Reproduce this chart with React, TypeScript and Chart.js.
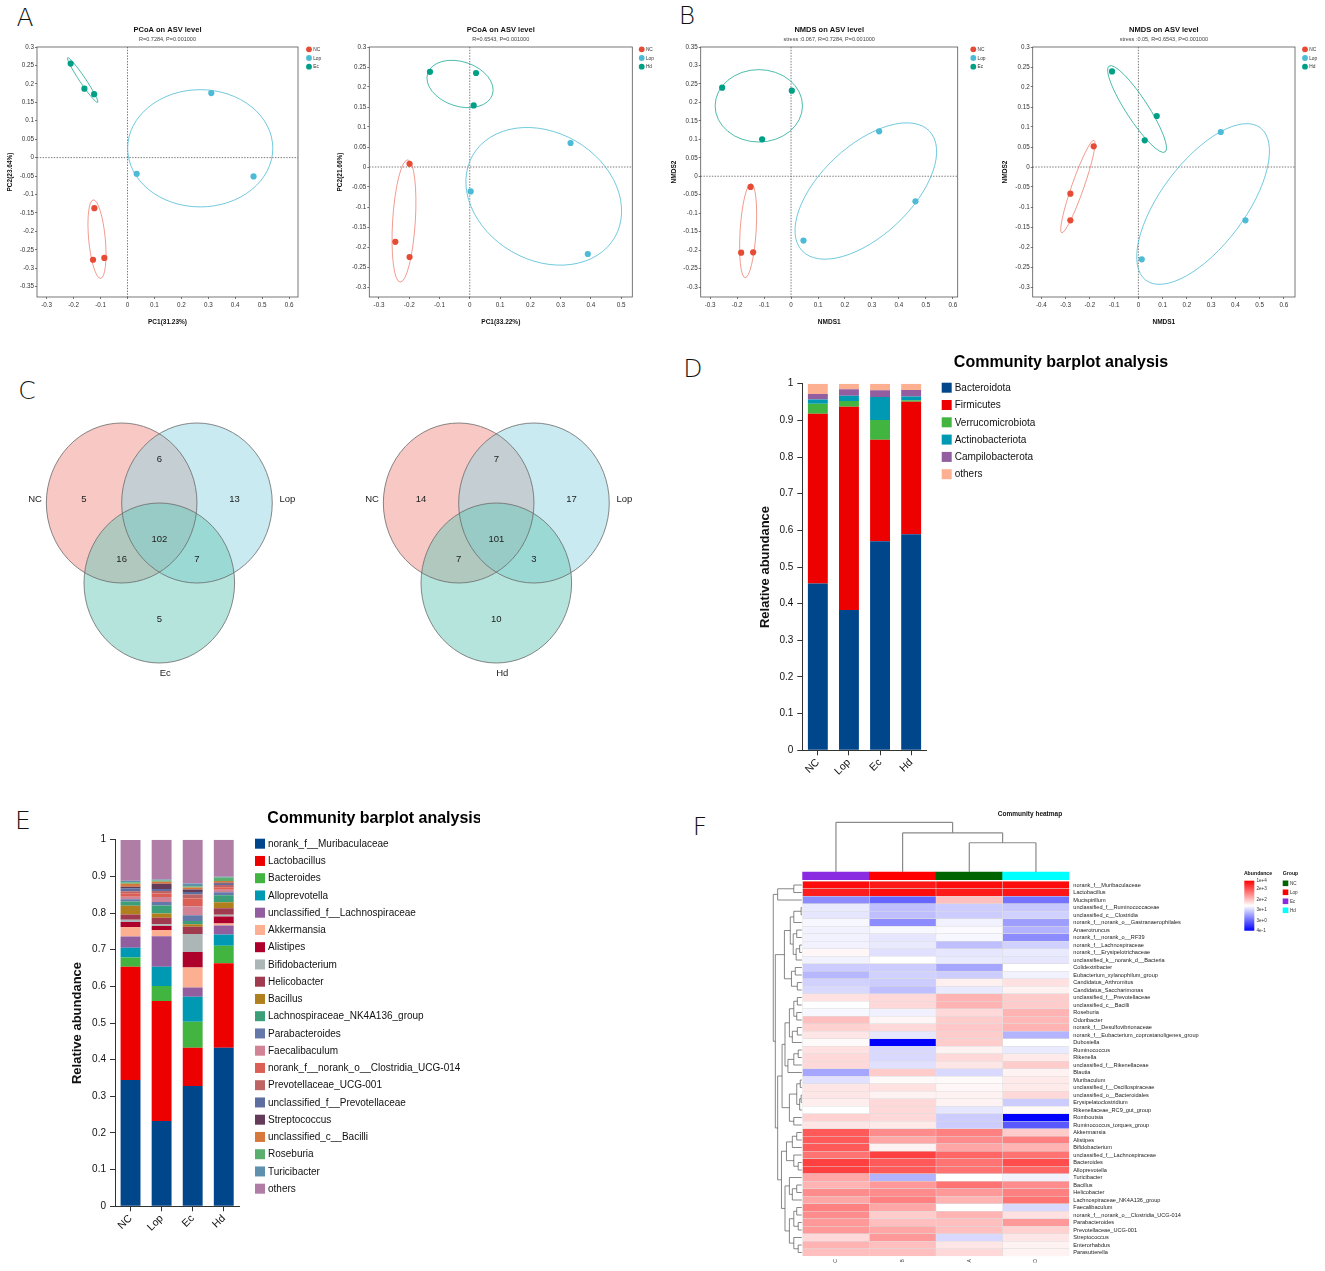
import React, { useEffect, useRef } from 'react';
import { Chart, registerables } from 'chart.js';

Chart.register(...registerables);

const FF = '"Liberation Sans", Arial, Helvetica, sans-serif';

/* ===================== A & B : ordination ===================== */
const groupsEc = ['NC', 'Lop', 'Ec'];
const groupsHd = ['NC', 'Lop', 'Hd'];
const ordColors = ['#E64B35', '#4DBBD5', '#00A087'];
const ordEllipseColors = ['rgba(230,75,53,0.55)', 'rgba(77,187,213,0.8)', 'rgba(0,160,135,0.7)'];

// PCoA (NC / Lop / Ec)
const pcoaEcNC = [[-0.123, -0.137], [-0.128, -0.277], [-0.086, -0.272]];
const pcoaEcLop = [[0.311, 0.175], [0.034, -0.044], [0.468, -0.051]];
const pcoaEcEc = [[-0.211, 0.255], [-0.16, 0.187], [-0.124, 0.172]];
// confidence ellipses: [centreX, centreY, majorEndX, majorEndY, minorEndX, minorEndY]
const pcoaEcEllipses = [
  [-0.1133, -0.2211, -0.0997, -0.3276, -0.0826, -0.2191],
  [0.27, 0.0253, 0.5395, 0.0253, 0.27, 0.1843],
  [-0.1665, 0.2103, -0.1108, 0.1498, -0.1758, 0.2058],
];
const pcoaEcXTicks = [-0.3, -0.2, -0.1, 0, 0.1, 0.2, 0.3, 0.4, 0.5, 0.6];
const pcoaEcYTicks = [-0.35, -0.3, -0.25, -0.2, -0.15, -0.1, -0.05, 0, 0.05, 0.1, 0.15, 0.2, 0.25, 0.3];

// PCoA (NC / Lop / Hd)
const pcoaHdNC = [[-0.199, 0.008], [-0.246, -0.187], [-0.199, -0.225]];
const pcoaHdLop = [[0.333, 0.06], [0.003, -0.061], [0.39, -0.2175]];
const pcoaHdHd = [[-0.1315, 0.238], [0.0207, 0.235], [0.0129, 0.154]];
const pcoaHdEllipses = [
  [-0.2174, -0.135, -0.23, -0.2879, -0.18, -0.1368],
  [0.2444, -0.0733, 0.4791, -0.1758, 0.3499, 0.0649],
  [-0.0322, 0.2075, 0.0747, 0.1808, -0.0554, 0.1546],
];
const pcoaHdXTicks = [-0.3, -0.2, -0.1, 0, 0.1, 0.2, 0.3, 0.4, 0.5];
const pcoaHdYTicks = [-0.3, -0.25, -0.2, -0.15, -0.1, -0.05, 0, 0.05, 0.1, 0.15, 0.2, 0.25, 0.3];

// NMDS (NC / Lop / Ec)
const nmdsEcNC = [[-0.15, -0.029], [-0.185, -0.207], [-0.1405, -0.206]];
const nmdsEcLop = [[0.3267, 0.1216], [0.4614, -0.068], [0.0461, -0.1742]];
const nmdsEcEc = [[-0.2555, 0.2399], [0.0028, 0.2317], [-0.1072, 0.0999]];
const nmdsEcEllipses = [
  [-0.1591, -0.1474, -0.1702, -0.2747, -0.1295, -0.1488],
  [0.2773, -0.04, 0.5138, 0.1217, 0.3915, -0.1291],
  [-0.1195, 0.1907, 0.0425, 0.1907, -0.1195, 0.2887],
];
const nmdsEcXTicks = [-0.3, -0.2, -0.1, 0, 0.1, 0.2, 0.3, 0.4, 0.5, 0.6];
const nmdsEcYTicks = [-0.3, -0.25, -0.2, -0.15, -0.1, -0.05, 0, 0.05, 0.1, 0.15, 0.2, 0.25, 0.3, 0.35];

// NMDS (NC / Lop / Hd)
const nmdsHdNC = [[-0.1843, 0.0517], [-0.2806, -0.0667], [-0.2806, -0.1333]];
const nmdsHdLop = [[0.3398, 0.0875], [0.4415, -0.1333], [0.0138, -0.2308]];
const nmdsHdHd = [[-0.1087, 0.239], [0.0757, 0.1275], [0.0261, 0.0667]];
const nmdsHdEllipses = [
  [-0.2497, -0.0488, -0.183, 0.0667, -0.2263, -0.0538],
  [0.2669, -0.0925, 0.5028, 0.0982, 0.4059, -0.1557],
  [-0.0055, 0.145, 0.11, 0.0375, -0.0435, 0.13],
];
const nmdsHdXTicks = [-0.4, -0.3, -0.2, -0.1, 0, 0.1, 0.2, 0.3, 0.4, 0.5, 0.6];
const nmdsHdYTicks = [-0.3, -0.25, -0.2, -0.15, -0.1, -0.05, 0, 0.05, 0.1, 0.15, 0.2, 0.25, 0.3];

/* ===================== C : Venn ===================== */
const vennSetsEc = ['NC', 'Lop', 'Ec'];
const vennSetsHd = ['NC', 'Lop', 'Hd'];
// region order: NC only, Lop only, third only, NC∩Lop, NC∩third, Lop∩third, all three
const vennCountsEc = [5, 13, 5, 6, 16, 7, 102];
const vennCountsHd = [14, 17, 10, 7, 7, 3, 101];
const vennCenters = [[0, 0], [1, 0], [0.5, -1]];
const vennRegionPos = [[-0.5, 0.04], [1.5, 0.04], [0.5, -1.46], [0.5, 0.55], [0, -0.71], [1, -0.71], [0.5, -0.46]];
const vennNamePos = [[-1.15, 0.04], [2.2, 0.04], [0.58, -2.125]];
const vennFills = ['rgba(241,145,137,0.5)', 'rgba(147,213,225,0.5)', 'rgba(107,201,185,0.5)'];

/* ===================== D & E : community barplots ===================== */
const barGroups = ['NC', 'Lop', 'Ec', 'Hd'];

const phylumTaxa = ['Bacteroidota', 'Firmicutes', 'Verrucomicrobiota', 'Actinobacteriota', 'Campilobacterota', 'others'];
const phylumColors = ['#00468B', '#ED0000', '#42B540', '#0099B4', '#925E9F', '#FDAF91'];
const phylumNC = [0.455, 0.463, 0.027, 0.012, 0.015, 0.028];
const phylumLop = [0.383, 0.554, 0.016, 0.014, 0.018, 0.015];
const phylumEc = [0.57, 0.277, 0.054, 0.063, 0.018, 0.018];
const phylumHd = [0.589, 0.362, 0.004, 0.01, 0.018, 0.017];

const genusTaxa = [
  'norank_f__Muribaculaceae', 'Lactobacillus', 'Bacteroides', 'Alloprevotella', 'unclassified_f__Lachnospiraceae',
  'Akkermansia', 'Alistipes', 'Bifidobacterium', 'Helicobacter', 'Bacillus', 'Lachnospiraceae_NK4A136_group',
  'Parabacteroides', 'Faecalibaculum', 'norank_f__norank_o__Clostridia_UCG-014', 'Prevotellaceae_UCG-001',
  'unclassified_f__Prevotellaceae', 'Streptococcus', 'unclassified_c__Bacilli', 'Roseburia', 'Turicibacter', 'others',
];
const genusColors = [
  '#00468B', '#ED0000', '#42B540', '#0099B4', '#925E9F', '#FDAF91', '#AD002A', '#ADB6B6', '#A03A4E', '#B0801E',
  '#3C9F7A', '#6478AA', '#D28496', '#DC5F55', '#BE6464', '#5F6EA0', '#643C5A', '#D7783C', '#5AAF6E', '#5F91AF', '#AF7DA5',
];
const genusNC = [0.3445, 0.309, 0.0255, 0.026, 0.031, 0.026, 0.0136, 0.006, 0.0145, 0.0236, 0.012, 0.006, 0.007, 0.009, 0.006, 0.008, 0.004, 0.008, 0.0045, 0.004, 0.111];
const genusLop = [0.2327, 0.327, 0.041, 0.053, 0.0827, 0.017, 0.011, 0.005, 0.018, 0.011, 0.022, 0.01, 0.0136, 0.009, 0.007, 0.0055, 0.0145, 0.0055, 0.003, 0.003, 0.1085];
const genusEc = [0.328, 0.1045, 0.071, 0.068, 0.0255, 0.0545, 0.042, 0.049, 0.02, 0.007, 0.009, 0.0155, 0.0245, 0.021, 0.011, 0.007, 0.0064, 0.0055, 0.0036, 0.0073, 0.1197];
const genusHd = [0.4327, 0.23, 0.048, 0.031, 0.0245, 0.0055, 0.019, 0.0045, 0.018, 0.0164, 0.019, 0.008, 0.007, 0.007, 0.0055, 0.0036, 0.003, 0.0045, 0.01, 0.002, 0.1008];

/* ===================== F : heatmap ===================== */
const heatTaxa = [
  'norank_f__Muribaculaceae', 'Lactobacillus', 'Mucispirillum', 'unclassified_f__Ruminococcaceae', 'unclassified_c__Clostridia',
  'norank_f__norank_o__Gastranaerophilales', 'Anaerotruncus', 'norank_f__norank_o__RF39', 'norank_f__Lachnospiraceae',
  'norank_f__Erysipelotrichaceae', 'unclassified_k__norank_d__Bacteria', 'Colidextribacter', 'Eubacterium_xylanophilum_group',
  'Candidatus_Arthromitus', 'Candidatus_Saccharimonas', 'unclassified_f__Prevotellaceae', 'unclassified_c__Bacilli', 'Roseburia',
  'Odoribacter', 'norank_f__Desulfovibrionaceae', 'norank_f__Eubacterium_coprostanoligenes_group', 'Dubosiella', 'Ruminococcus',
  'Rikenella', 'unclassified_f__Rikenellaceae', 'Blautia', 'Muribaculum', 'unclassified_f__Oscillospiraceae',
  'unclassified_o__Bacteroidales', 'Erysipelatoclostridium', 'Rikenellaceae_RC9_gut_group', 'Romboutsia',
  'Ruminococcus_torques_group', 'Akkermansia', 'Alistipes', 'Bifidobacterium', 'unclassified_f__Lachnospiraceae', 'Bacteroides',
  'Alloprevotella', 'Turicibacter', 'Bacillus', 'Helicobacter', 'Lachnospiraceae_NK4A136_group', 'Faecalibaculum',
  'norank_f__norank_o__Clostridia_UCG-014', 'Parabacteroides', 'Prevotellaceae_UCG-001', 'Streptococcus', 'Enterorhabdus', 'Parasutterella',
];
const heatCols = ['C', 'B', 'A', 'D'];
const heatColGroups = ['Ec', 'Lop', 'NC', 'Hd'];
const heatGroupNames = ['NC', 'Lop', 'Ec', 'Hd'];
const heatGroupColors = ['#006400', '#FF0000', '#8A2BE2', '#00FFFF'];
// log10 abundance per sample column
const heatLogC = [3.89, 3.74, 0.81, 1.62, 1.58, 1.73, 1.69, 1.69, 1.69, 1.87, 1.69, 1.36, 1.18, 1.4, 1.47, 2.06, 1.8, 1.73, 2.35, 2.2, 2.02, 1.84, 2.06, 2.13, 2.13, 1.03, 1.54, 2.02, 2.02, 1.95, 1.8, 2.2, 2.02, 3.23, 3.23, 3.23, 3.01, 3.45, 3.45, 2.57, 2.46, 2.79, 2.57, 2.9, 2.79, 2.68, 2.68, 2.13, 2.46, 2.35];
const heatLogB = [3.78, 3.89, 0.48, 1.25, 1.25, 0.81, 1.73, 1.58, 1.62, 1.54, 1.8, 1.36, 1.4, 1.36, 1.25, 2.13, 2.13, 1.67, 1.87, 2.13, 1.58, -0.4, 1.47, 1.47, 1.54, 2.24, 1.84, 2.06, 1.91, 2.13, 2.13, 2.13, 1.98, 2.79, 2.57, 1.91, 3.45, 3.23, 3.23, 1.14, 2.68, 2.79, 2.9, 2.57, 2.24, 2.35, 2.57, 2.68, 2.35, 2.35];
const heatLogA = [3.89, 3.78, 2.35, 1.36, 1.36, 1.69, 1.76, 1.73, 1.25, 1.58, 1.62, 1.03, 1.36, 1.93, 1.62, 2.46, 2.46, 2.13, 2.24, 2.28, 2.24, 2.24, 1.91, 2.13, 2.02, 1.47, 1.84, 1.87, 1.91, 1.91, 1.58, 1.36, 1.36, 2.9, 2.79, 2.57, 3.12, 3.01, 3.01, 1.8, 3.01, 2.68, 2.46, 1.8, 2.46, 2.35, 2.35, 1.47, 2.02, 2.13];
const heatLogD = [3.89, 3.82, 0.59, 1.32, 1.4, 0.96, 1.14, 0.81, 1.4, 1.62, 1.58, 1.8, 1.69, 2.06, 1.91, 2.24, 2.24, 2.46, 2.42, 2.46, 1.14, 1.8, 1.62, 1.98, 2.24, 1.91, 1.98, 1.98, 2.13, 1.36, 1.84, -0.4, 0.37, 2.24, 2.9, 2.46, 3.01, 3.34, 3.12, 1.69, 2.79, 2.9, 3.01, 1.47, 2.06, 2.68, 2.2, 2.02, 1.91, 1.91];
const heatLegendTicks = ['1e+4', '2e+3', '2e+2', '3e+1', '3e+0', '4e-1'];
const heatLegendValues = [10000, 2000, 200, 30, 3, 0.4];
// dendrograms: [height, left, right]; leaves are row / column indices
const heatColTree = [1.0, 0, [0.79, 1, [0.59, 2, 3]]];
const heatRowTree = [1.0,
  [0.85, [0.3, 0, 1], 2],
  [0.93,
    [0.62, [0.42, [0.3, [0.05, 3, 4], 5], [0.32, [0.2, 6, 7], [0.22, [0.1, 8, 9], 10]]], [0.38, [0.25, 11, 12], [0.18, 13, 14]]],
    [0.85,
      [0.7,
        [0.6, [0.45, [0.3, [0.18, 15, 16], [0.2, 17, 18]], [0.35, [0.18, 19, 20], 21]], [0.5, [0.3, [0.15, 22, 23], 24], 25]],
        [0.45, [0.2, [0.08, 26, 27], [0.1, [0.05, 28, 29], 30]], [0.3, 31, 32]]],
      [0.72,
        [0.55, [0.35, [0.2, 33, 34], 35], [0.3, 36, [0.15, 37, 38]]],
        [0.6, [0.45, 39, [0.35, [0.2, 40, 41], 42]], [0.45, [0.3, [0.2, 43, 44], [0.15, 45, 46]], [0.3, 47, [0.15, 48, 49]]]]],
    ],
  ],
];

/* ===================== helpers ===================== */
const fmt2 = (v: number) => String(Math.round(v * 100) / 100);

function ChartCanvas({ left, top, width, height, build }: any) {
  const ref = useRef<HTMLCanvasElement | null>(null);
  useEffect(() => {
    const chart = new Chart(ref.current as HTMLCanvasElement, build());
    return () => chart.destroy();
  }, []);
  return (
    <canvas
      ref={ref}
      width={width}
      height={height}
      style={{ position: 'absolute', left, top, width, height }}
    />
  );
}

/* ---------- ordination chart ---------- */
function ordConfig(s: any) {
  const plugin = {
    id: 'ordExtras',
    beforeDatasetsDraw(chart: any) {
      const { ctx, chartArea: ca, scales } = chart;
      const x = scales.x, y = scales.y;
      ctx.save();
      ctx.setLineDash([1.4, 1.4]);
      ctx.strokeStyle = '#555';
      ctx.lineWidth = 0.8;
      const x0 = x.getPixelForValue(0), y0 = y.getPixelForValue(0);
      ctx.beginPath();
      ctx.moveTo(x0, ca.top); ctx.lineTo(x0, ca.bottom);
      ctx.moveTo(ca.left, y0); ctx.lineTo(ca.right, y0);
      ctx.stroke();
      ctx.setLineDash([]);
      s.ellipses.forEach((e: number[], i: number) => {
        const cx = x.getPixelForValue(e[0]), cy = y.getPixelForValue(e[1]);
        const ax = x.getPixelForValue(e[2]) - cx, ay = y.getPixelForValue(e[3]) - cy;
        const bx = x.getPixelForValue(e[4]) - cx, by = y.getPixelForValue(e[5]) - cy;
        const ra = Math.hypot(ax, ay);
        const rb = Math.abs(ax * by - ay * bx) / ra;
        ctx.beginPath();
        ctx.ellipse(cx, cy, ra, rb, Math.atan2(ay, ax), 0, Math.PI * 2);
        ctx.strokeStyle = ordEllipseColors[i];
        ctx.lineWidth = 1;
        ctx.stroke();
      });
      ctx.restore();
    },
    afterDraw(chart: any) {
      const { ctx, chartArea: ca } = chart;
      ctx.save();
      ctx.strokeStyle = '#555';
      ctx.lineWidth = 0.8;
      ctx.strokeRect(ca.left, ca.top, ca.right - ca.left, ca.bottom - ca.top);
      ctx.font = `4.8px ${FF}`;
      ctx.textAlign = 'left';
      ctx.textBaseline = 'middle';
      s.groups.forEach((g: string, i: number) => {
        const cx = ca.right + s.legDx, cy = ca.top + 2.3 + i * 8.7;
        ctx.beginPath();
        ctx.arc(cx, cy, 2.9, 0, Math.PI * 2);
        ctx.fillStyle = ordColors[i];
        ctx.fill();
        ctx.fillStyle = '#333';
        ctx.fillText(g, cx + 4.2, cy + 0.3);
      });
      ctx.restore();
    },
  };
  const axisCommon = {
    type: 'linear',
    grid: { display: true, drawOnChartArea: false, drawTicks: true, tickLength: 2, color: '#555', lineWidth: 0.8 },
    border: { display: false },
  };
  return {
    type: 'scatter',
    data: {
      datasets: s.groups.map((g: string, i: number) => ({
        label: g,
        data: s.points[i].map((p: number[]) => ({ x: p[0], y: p[1] })),
        backgroundColor: ordColors[i],
        borderColor: ordColors[i],
        borderWidth: 0,
        pointRadius: 3.1,
        pointHoverRadius: 3.1,
      })),
    },
    options: {
      responsive: false,
      animation: false,
      events: [],
      layout: { padding: { left: s.padL, right: s.padR, top: 0, bottom: 0 } },
      plugins: {
        legend: { display: false },
        tooltip: { enabled: false },
        title: {
          display: true, text: s.title, fullSize: false, color: '#111',
          font: { family: FF, size: 7.5, weight: 'bold' }, padding: { top: 25.4, bottom: 2 },
        },
        subtitle: {
          display: true, text: s.subtitle, fullSize: false, color: '#444',
          font: { family: FF, size: 5.5 }, padding: { top: 0, bottom: 4 },
        },
      },
      scales: {
        x: {
          ...axisCommon,
          min: s.xr[0], max: s.xr[1],
          afterBuildTicks: (sc: any) => { sc.ticks = s.xt.map((v: number) => ({ value: v })); },
          ticks: { autoSkip: false, maxRotation: 0, padding: 2, color: '#333', font: { family: FF, size: 6.3 }, callback: (v: number) => fmt2(v) },
          title: { display: true, text: s.xTitle, color: '#111', font: { family: FF, size: 6.5, weight: 'bold' }, padding: { top: 0, bottom: 4.1 } },
          afterFit: (sc: any) => { sc.height = 33; },
        },
        y: {
          ...axisCommon,
          min: s.yr[0], max: s.yr[1],
          afterBuildTicks: (sc: any) => { sc.ticks = s.yt.map((v: number) => ({ value: v })); },
          ticks: { autoSkip: false, padding: 1, color: '#333', font: { family: FF, size: 6.3 }, callback: (v: number) => fmt2(v) },
          title: { display: true, text: s.yTitle, color: '#111', font: { family: FF, size: 6.5, weight: 'bold' }, padding: { top: 4, bottom: 0 } },
          afterFit: (sc: any) => { sc.width = s.yW; },
        },
      },
    },
    plugins: [plugin],
  };
}

const ORD_SPECS = [
  {
    left: 0, width: 330, padL: 2, yW: 35, padR: 32, legDx: 11,
    title: 'PCoA on ASV level', subtitle: 'R=0.7284, P=0.001000', xTitle: 'PC1(31.23%)', yTitle: 'PC2(23.64%)',
    groups: groupsEc, points: [pcoaEcNC, pcoaEcLop, pcoaEcEc], ellipses: pcoaEcEllipses,
    xr: [-0.336, 0.633], yr: [-0.378, 0.3], xt: pcoaEcXTicks, yt: pcoaEcYTicks,
  },
  {
    left: 330, width: 330, padL: 2.1, yW: 37.2, padR: 27.7, legDx: 9.4,
    title: 'PCoA on ASV level', subtitle: 'R=0.6543, P=0.001000', xTitle: 'PC1(33.22%)', yTitle: 'PC2(21.66%)',
    groups: groupsHd, points: [pcoaHdNC, pcoaHdLop, pcoaHdHd], ellipses: pcoaHdEllipses,
    xr: [-0.332, 0.537], yr: [-0.325, 0.3], xt: pcoaHdXTicks, yt: pcoaHdYTicks,
  },
  {
    left: 660, width: 330, padL: 6.1, yW: 34.6, padR: 32.3, legDx: 15.6,
    title: 'NMDS on ASV level', subtitle: 'stress :0.067, R=0.7284, P=0.001000', xTitle: 'NMDS1', yTitle: 'NMDS2',
    groups: groupsEc, points: [nmdsEcNC, nmdsEcLop, nmdsEcEc], ellipses: nmdsEcEllipses,
    xr: [-0.335, 0.618], yr: [-0.327, 0.35], xt: nmdsEcXTicks, yt: nmdsEcYTicks,
  },
  {
    left: 990, width: 335, padL: 7.1, yW: 35.6, padR: 30, legDx: 10,
    title: 'NMDS on ASV level', subtitle: 'stress :0.05, R=0.6543, P=0.001000', xTitle: 'NMDS1', yTitle: 'NMDS2',
    groups: groupsHd, points: [nmdsHdNC, nmdsHdLop, nmdsHdHd], ellipses: nmdsHdEllipses,
    xr: [-0.436, 0.646], yr: [-0.325, 0.3], xt: nmdsHdXTicks, yt: nmdsHdYTicks,
  },
];

/* ---------- Venn ---------- */
function vennConfig(sets: string[], counts: number[]) {
  const plugin = {
    id: 'venn',
    beforeDatasetsDraw(chart: any) {
      const { ctx, scales } = chart;
      const x = scales.x, y = scales.y;
      const pts = chart.getDatasetMeta(0).data;
      ctx.save();
      const shapes = pts.map((pt: any, i: number) => ({
        cx: pt.x, cy: pt.y,
        rx: Math.abs(x.getPixelForValue(vennCenters[i][0] + 1) - pt.x),
        ry: Math.abs(y.getPixelForValue(vennCenters[i][1] + 1) - pt.y),
      }));
      shapes.forEach((e: any, i: number) => {
        ctx.beginPath();
        ctx.ellipse(e.cx, e.cy, e.rx, e.ry, 0, 0, Math.PI * 2);
        ctx.fillStyle = vennFills[i];
        ctx.fill();
      });
      shapes.forEach((e: any) => {
        ctx.beginPath();
        ctx.ellipse(e.cx, e.cy, e.rx, e.ry, 0, 0, Math.PI * 2);
        ctx.strokeStyle = '#6a6a6a';
        ctx.lineWidth = 0.8;
        ctx.stroke();
      });
      ctx.restore();
    },
    afterDatasetsDraw(chart: any) {
      const { ctx } = chart;
      ctx.save();
      ctx.fillStyle = '#222';
      ctx.textAlign = 'center';
      ctx.textBaseline = 'middle';
      ctx.font = `9.5px ${FF}`;
      chart.getDatasetMeta(1).data.forEach((pt: any, i: number) => ctx.fillText(String(counts[i]), pt.x, pt.y));
      chart.getDatasetMeta(2).data.forEach((pt: any, i: number) => ctx.fillText(sets[i], pt.x, pt.y));
      ctx.restore();
    },
  };
  const toXY = (a: number[][]) => a.map((p) => ({ x: p[0], y: p[1] }));
  return {
    type: 'scatter',
    data: {
      datasets: [
        { label: 'sets', data: toXY(vennCenters), pointRadius: 0 },
        { label: 'regions', data: toXY(vennRegionPos), pointRadius: 0 },
        { label: 'names', data: toXY(vennNamePos), pointRadius: 0 },
      ],
    },
    options: {
      responsive: false,
      animation: false,
      events: [],
      layout: { padding: 0 },
      plugins: { legend: { display: false }, tooltip: { enabled: false } },
      scales: {
        x: { type: 'linear', display: false, min: -1.35, max: 2.395 },
        y: { type: 'linear', display: false, min: -2.3, max: 1.3 },
      },
    },
    plugins: [plugin],
  };
}

/* ---------- stacked community barplot ---------- */
function stackConfig(s: any) {
  const plugin = {
    id: 'stackExtras',
    afterDraw(chart: any) {
      const { ctx } = chart;
      ctx.save();
      ctx.fillStyle = '#000';
      ctx.font = `bold 16px ${FF}`;
      ctx.textAlign = 'center';
      ctx.textBaseline = 'middle';
      ctx.fillText('Community barplot analysis', s.titleX, s.titleY);
      ctx.font = `10px ${FF}`;
      ctx.textAlign = 'left';
      chart.data.datasets.forEach((d: any, i: number) => {
        const cy = s.legY + i * s.legDy;
        ctx.fillStyle = d.backgroundColor;
        ctx.fillRect(s.legX, cy - 5, 10, 10);
        ctx.fillStyle = '#111';
        ctx.fillText(d.label, s.legX + 13, cy + 0.5);
      });
      ctx.restore();
    },
  };
  return {
    type: 'bar',
    data: {
      labels: barGroups,
      datasets: s.taxa.map((t: string, i: number) => ({
        label: t,
        data: s.values.map((arr: number[]) => arr[i]),
        backgroundColor: s.colors[i],
        borderWidth: 0,
        barPercentage: 0.8,
        categoryPercentage: 0.8,
      })),
    },
    options: {
      responsive: false,
      animation: false,
      events: [],
      layout: { padding: { left: s.padL, right: s.padR, top: s.padT, bottom: 0 } },
      plugins: { legend: { display: false }, tooltip: { enabled: false } },
      scales: {
        x: {
          stacked: true,
          grid: { display: true, offset: false, drawOnChartArea: false, drawTicks: true, tickLength: 5, color: '#333', lineWidth: 1 },
          border: { display: true, color: '#333', width: 1 },
          ticks: { autoSkip: false, minRotation: 45, maxRotation: 45, padding: 1, color: '#111', font: { family: FF, size: 10.5 } },
          afterFit: (sc: any) => { sc.height = s.xH; },
        },
        y: {
          stacked: true,
          min: 0,
          max: 1,
          grid: { display: true, drawOnChartArea: false, drawTicks: true, tickLength: 5, color: '#333', lineWidth: 1 },
          border: { display: true, color: '#333', width: 1 },
          ticks: { stepSize: 0.1, padding: 4, color: '#111', font: { family: FF, size: 10 }, callback: (v: number) => String(Math.round(v * 10) / 10) },
          title: { display: true, text: 'Relative abundance', color: '#111', font: { family: FF, size: 13, weight: 'bold' }, padding: { top: 4, bottom: 0 } },
          afterFit: (sc: any) => { sc.width = s.yW; },
        },
      },
    },
    plugins: [plugin],
  };
}

const PHYLUM_SPEC = {
  taxa: phylumTaxa, colors: phylumColors, values: [phylumNC, phylumLop, phylumEc, phylumHd],
  padL: 13.2, yW: 49.1, padR: 398.3, padT: 43.7, xH: 49.7,
  titleX: 321, titleY: 23, legX: 201.7, legY: 47.7, legDy: 17.3,
};
const GENUS_SPEC = {
  taxa: genusTaxa, colors: genusColors, values: [genusNC, genusLop, genusEc, genusHd],
  padL: 65.9, yW: 49.1, padR: 240.7, padT: 39.7, xH: 64.7,
  titleX: 374.5, titleY: 19, legX: 255, legY: 43.7, legDy: 17.25,
};

/* ---------- heatmap ---------- */
function heatColor(v: number) {
  const t = Math.max(-1, Math.min(1, (v - 1.8) / 2.2));
  if (t >= 0) {
    const c = Math.round(255 * (1 - t));
    return `rgb(255,${c},${c})`;
  }
  const c = Math.round(255 * (1 + t));
  return `rgb(${c},${c},255)`;
}

function walkTree(node: any, leaf: any, hq: any, seg: any): any {
  if (typeof node === 'number') return leaf(node);
  const a = walkTree(node[1], leaf, hq, seg);
  const b = walkTree(node[2], leaf, hq, seg);
  const q = hq(node[0]);
  seg(a.p, a.q, a.p, q);
  seg(b.p, b.q, b.p, q);
  seg(a.p, q, b.p, q);
  return { p: (a.p + b.p) / 2, q };
}

function heatConfig() {
  const colLogs = [heatLogC, heatLogB, heatLogA, heatLogD];
  const datasets: any[] = colLogs.map((arr, j) => ({
    label: heatCols[j],
    data: arr.map((v, i) => ({ x: [j, j + 1], y: i + 0.5 })),
    backgroundColor: arr.map(heatColor),
    borderColor: '#dddddd',
    borderWidth: 0.5,
    borderSkipped: false,
    grouped: false,
    barPercentage: 1,
    categoryPercentage: 1,
  }));
  datasets.push({
    label: 'Group',
    data: heatColGroups.map((g, j) => ({ x: [j, j + 1], y: -0.72 })),
    backgroundColor: heatColGroups.map((g) => heatGroupColors[heatGroupNames.indexOf(g)]),
    borderWidth: 0,
    grouped: false,
    barPercentage: 1,
    categoryPercentage: 1,
  });
  const plugin = {
    id: 'heatExtras',
    afterDraw(chart: any) {
      const { ctx, scales } = chart;
      const x = scales.x, y = scales.y;
      ctx.save();
      // row dendrogram
      ctx.strokeStyle = '#555';
      ctx.lineWidth = 0.7;
      ctx.beginPath();
      walkTree(
        heatRowTree,
        (i: number) => ({ p: y.getPixelForValue(i + 0.5), q: x.getPixelForValue(0) - 0.8 }),
        (h: number) => x.getPixelForValue(-0.44 * h),
        (p1: number, q1: number, p2: number, q2: number) => { ctx.moveTo(q1, p1); ctx.lineTo(q2, p2); },
      );
      ctx.stroke();
      // column dendrogram
      ctx.strokeStyle = '#8a8a8a';
      ctx.lineWidth = 1.2;
      ctx.beginPath();
      walkTree(
        heatColTree,
        (j: number) => ({ p: x.getPixelForValue(j + 0.5), q: y.getPixelForValue(-1.22) }),
        (h: number) => y.getPixelForValue(-1.22 - 6.64 * h),
        (p1: number, q1: number, p2: number, q2: number) => { ctx.moveTo(p1, q1); ctx.lineTo(p2, q2); },
      );
      ctx.stroke();
      // colour bar legend
      const cbX = 484.3, cbTop = 80.7, cbH = 50;
      const grad = ctx.createLinearGradient(0, cbTop, 0, cbTop + cbH);
      grad.addColorStop(0, 'rgb(255,0,0)');
      grad.addColorStop(0.5, 'rgb(255,255,255)');
      grad.addColorStop(1, 'rgb(0,0,255)');
      ctx.fillStyle = grad;
      ctx.fillRect(cbX, cbTop, 10, cbH);
      ctx.fillStyle = '#111';
      ctx.font = `bold 5.2px ${FF}`;
      ctx.textAlign = 'center';
      ctx.textBaseline = 'middle';
      ctx.fillText('Abundance', 498, 74);
      ctx.textAlign = 'left';
      ctx.fillText('Group', 522.7, 74);
      ctx.font = `4.6px ${FF}`;
      heatLegendTicks.forEach((t, i) => {
        const ly = cbTop + ((4 - Math.log10(heatLegendValues[i])) / 4.4) * cbH;
        ctx.fillStyle = '#333';
        ctx.fillText(t, 496.5, ly);
      });
      heatGroupNames.forEach((g, i) => {
        const cy = 83.3 + i * 9;
        ctx.fillStyle = heatGroupColors[i];
        ctx.fillRect(522.7, cy - 2.8, 5.6, 5.6);
        ctx.fillStyle = '#333';
        ctx.fillText(g, 530, cy);
      });
      ctx.restore();
    },
  };
  return {
    type: 'bar',
    data: { datasets },
    options: {
      indexAxis: 'y',
      responsive: false,
      animation: false,
      events: [],
      layout: { padding: { left: 12.6, right: 37.6, top: 0, bottom: 0 } },
      plugins: {
        legend: { display: false },
        tooltip: { enabled: false },
        title: {
          display: true, text: 'Community heatmap', color: '#111',
          font: { family: FF, size: 6.5, weight: 'bold' }, padding: { top: 10.1, bottom: 1.5 },
        },
      },
      scales: {
        x: {
          type: 'linear', min: -0.45, max: 4, offset: false,
          grid: { display: false, drawTicks: false },
          border: { display: false },
          afterBuildTicks: (sc: any) => { sc.ticks = heatCols.map((_, j) => ({ value: j + 0.5 })); },
          ticks: { autoSkip: false, minRotation: 90, maxRotation: 90, padding: 3, color: '#333', font: { family: FF, size: 5 }, callback: (v: number, i: number) => heatCols[i] },
          afterFit: (sc: any) => { sc.height = 14.75; },
        },
        y: {
          type: 'linear', position: 'right', reverse: true, min: -8.25, max: 50, offset: false,
          grid: { display: false, drawTicks: false },
          border: { display: false },
          afterBuildTicks: (sc: any) => { sc.ticks = heatTaxa.map((_, i) => ({ value: i + 0.5 })); },
          ticks: { autoSkip: false, padding: 4, color: '#222', font: { family: FF, size: 5.6 }, callback: (v: number, i: number) => heatTaxa[i] },
          afterFit: (sc: any) => { sc.width = 218.1; },
        },
      },
    },
    plugins: [plugin],
  };
}

/* ===================== page ===================== */
const PANEL_LETTERS = [
  { t: 'A', x: 25, y: 17 },
  { t: 'B', x: 687, y: 15 },
  { t: 'C', x: 27, y: 390 },
  { t: 'D', x: 693, y: 368 },
  { t: 'E', x: 23, y: 820 },
  { t: 'F', x: 700, y: 826 },
];

export default function App() {
  return (
    <div style={{ position: 'absolute', left: 0, top: 0, width: 1325, height: 1271, background: '#fff', overflow: 'hidden' }}>
      {PANEL_LETTERS.map((p) => (
        <div
          key={p.t}
          style={{
            position: 'absolute', left: p.x, top: p.y, transform: 'translate(-50%, -50%)',
            fontFamily: '"DejaVu Sans", "Liberation Sans", sans-serif', fontSize: 25, lineHeight: 1, color: '#111', fontWeight: 200,
          }}
        >
          {p.t}
        </div>
      ))}
      {ORD_SPECS.map((s, i) => (
        <ChartCanvas key={'ord' + i} left={s.left} top={0} width={s.width} height={330} build={() => ordConfig(s)} />
      ))}
      <ChartCanvas left={20} top={399} width={282} height={288} build={() => vennConfig(vennSetsEc, vennCountsEc)} />
      <ChartCanvas left={357} top={399} width={282} height={288} build={() => vennConfig(vennSetsHd, vennCountsHd)} />
      <ChartCanvas left={740} top={340} width={585} height={460} build={() => stackConfig(PHYLUM_SPEC)} />
      <ChartCanvas left={0} top={800} width={480} height={471} build={() => stackConfig(GENUS_SPEC)} />
      <ChartCanvas left={760} top={800} width={565} height={471} build={() => heatConfig()} />
    </div>
  );
}
